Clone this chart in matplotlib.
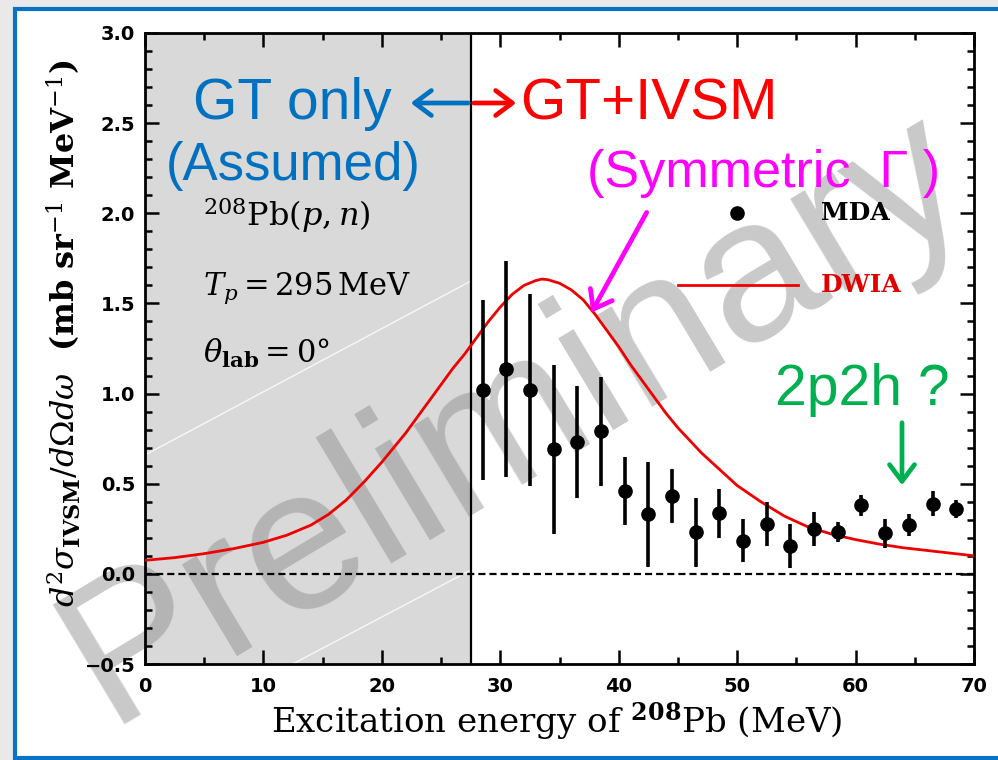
import matplotlib
matplotlib.use("Agg")
import matplotlib.pyplot as plt
from matplotlib.patches import Rectangle, FancyArrowPatch
from matplotlib.lines import Line2D
from matplotlib.ticker import MultipleLocator

plt.rcParams["mathtext.fontset"] = "dejavuserif"

# Multipole decomposition (MDA) points: excitation energy, cross section, error
mda_ex = [28.5, 30.5, 32.5, 34.5, 36.5, 38.5, 40.5, 42.5, 44.5, 46.5, 48.5,
          50.5, 52.5, 54.5, 56.5, 58.5, 60.5, 62.5, 64.5, 66.5, 68.5]
mda_xs = [1.02, 1.135, 1.02, 0.69, 0.73, 0.79, 0.46, 0.33, 0.43, 0.23, 0.335,
          0.185, 0.277, 0.155, 0.25, 0.23, 0.38, 0.226, 0.27, 0.39, 0.36]
mda_err = [0.50, 0.60, 0.53, 0.47, 0.31, 0.30, 0.19, 0.29, 0.15, 0.19, 0.135,
           0.12, 0.12, 0.12, 0.095, 0.055, 0.06, 0.08, 0.06, 0.07, 0.05]

# DWIA calculation
dwia_ex = [0, 2.5, 5, 7.5, 10, 12, 14, 15.5, 17, 18.5, 20, 21, 22, 23, 24, 25,
           26, 27, 28, 29, 30, 31, 32, 33, 33.5, 34, 35, 36, 37, 38, 39, 40,
           41, 42, 43, 44, 45, 46, 47, 48, 49, 50, 52, 54, 56, 58, 60, 62,
           64, 66, 68, 70]
dwia_xs = [0.075, 0.09, 0.112, 0.14, 0.175, 0.215, 0.27, 0.33, 0.41, 0.51,
           0.62, 0.70, 0.78, 0.87, 0.96, 1.05, 1.14, 1.22, 1.31, 1.40, 1.48,
           1.55, 1.60, 1.627, 1.635, 1.632, 1.612, 1.575, 1.52, 1.44, 1.35,
           1.26, 1.16, 1.07, 0.98, 0.89, 0.81, 0.74, 0.67, 0.61, 0.55, 0.49,
           0.40, 0.32, 0.26, 0.22, 0.19, 0.165, 0.145, 0.13, 0.115, 0.10]

gt_only_limit = 27.5
x_ticks = [0, 10, 20, 30, 40, 50, 60, 70]
y_ticks = [-0.5, 0.0, 0.5, 1.0, 1.5, 2.0, 2.5, 3.0]

W, H = 998, 760
fig = plt.figure(figsize=(W / 100, H / 100), dpi=100)
fig.patch.set_facecolor("#e9e9e9")


def fx(px):
    return px / W


def fy(py):
    return 1 - py / H


# slide panel with blue frame
fig.patches.append(Rectangle((fx(15), fy(758)), fx(1100) - fx(15), fy(9) - fy(758),
                             transform=fig.transFigure, facecolor="white",
                             edgecolor="#0a72c4", linewidth=3.0, zorder=-5))

ax = fig.add_axes([fx(145), fy(664), fx(974) - fx(145), fy(33) - fy(664)])
ax.set_xlim(0, 70)
ax.set_ylim(-0.5, 3.0)

ax.axvspan(0, gt_only_limit, color="#d9d9d9", zorder=0.2, lw=0)
ax.axvline(gt_only_limit, color="black", lw=1.6, zorder=1.8)
ax.axhline(0, color="black", lw=1.6, dashes=(3.2, 1.8), zorder=1.8)

# faint glare streaks across the shaded band
for (x0, y0), (x1, y1) in [((145, 455), (471, 281)), ((287, 667), (471, 570))]:
    ax.add_line(Line2D([fx(x0), fx(x1)], [fy(y0), fy(y1)], transform=fig.transFigure,
                       color="white", lw=1.0, alpha=0.8, zorder=0.4))

# watermark
ax.text(fx(515), fy(418), "Preliminary", transform=fig.transFigure,
        fontsize=146, family="Liberation Sans", color="#888888", alpha=0.45,
        rotation=31, ha="center", va="center", rotation_mode="anchor",
        zorder=0.5, clip_on=False)

ax.plot(dwia_ex, dwia_xs, color="#ee0000", lw=2.0, zorder=3)
ax.errorbar(mda_ex, mda_xs, yerr=mda_err, fmt="o", color="black", ms=9.5,
            elinewidth=2.6, capsize=0, zorder=4)

# legend
ax.plot([50], [2.0], "o", color="black", ms=9.5, zorder=4)
ax.text(57.1, 2.0, "MDA", family="DejaVu Serif", fontsize=18, fontweight="bold",
        va="center", ha="left", zorder=4)
ax.plot([45.0, 55.1], [1.6, 1.6], color="#ee0000", lw=2.0, zorder=3)
ax.text(57.1, 1.6, "DWIA", family="DejaVu Serif", fontsize=18, fontweight="bold",
        color="#e00000", va="center", ha="left", zorder=4)

# reaction info
ax.text(4.9, 1.93, r"$^{208}\mathrm{Pb}(p,n)$", fontsize=23, va="baseline", zorder=4)
ax.text(4.9, 1.55, r"$T_p=295\,\mathrm{MeV}$", fontsize=22, va="baseline", zorder=4)
ax.text(4.9, 1.17, r"$\theta_{\mathbf{lab}}=0\degree$", fontsize=22, va="baseline", zorder=4)

# axes styling
ax.set_xticks(x_ticks)
ax.set_yticks(y_ticks)
ax.set_xticklabels([f"{t:d}" for t in x_ticks])
ax.set_yticklabels([f"{t:.1f}".replace("-", "\u2212") for t in y_ticks])
ax.xaxis.set_minor_locator(MultipleLocator(5))
ax.yaxis.set_minor_locator(MultipleLocator(0.1))
ax.tick_params(which="both", direction="in", top=True, right=True, width=1.8)
ax.tick_params(which="major", length=10)
ax.tick_params(which="minor", length=5)
ax.tick_params(axis="x", which="major", pad=9)
ax.tick_params(axis="y", which="major", pad=7)
for lab in ax.get_xticklabels() + ax.get_yticklabels():
    lab.set_fontweight("heavy")
    lab.set_fontsize(14)
    lab.set_family("DejaVu Sans")
for sp in ax.spines.values():
    sp.set_linewidth(2.0)

ax.set_xlabel(r"Excitation energy of $^{\mathbf{208}}$Pb (MeV)", family="DejaVu Serif",
              fontsize=24.5)
ax.xaxis.set_label_coords((557 - 145) / 829, (664 - 701) / 631)
ax.set_ylabel(r"$d^2\sigma_{\mathbf{IVSM}}/d\Omega d\omega$  (mb sr$^{-1}$ MeV$^{-1}$)",
              family="DejaVu Serif", fontsize=23, fontweight="bold")
ax.yaxis.set_label_coords((83 - 145) / 829, (664 - 333) / 631)

# slide annotations
blue = "#0070c0"
red = "#ff0000"
magenta = "#ff00ff"
green = "#00b050"
sans = "Liberation Sans"

fig.text(fx(292), fy(104), "GT only", color=blue, fontsize=41, family=sans,
         ha="center", va="center")
fig.text(fx(293), fy(166), "(Assumed)", color=blue, fontsize=38, family=sans,
         ha="center", va="center")
fig.text(fx(520), fy(104), "GT+IVSM", color=red, fontsize=42, family=sans,
         ha="left", va="center")
fig.text(fx(587), fy(174), "(Symmetric  Γ )", color=magenta, fontsize=37.5, family=sans,
         ha="left", va="center")
fig.text(fx(775), fy(390), "2p2h ?", color=green, fontsize=41, family=sans,
         ha="left", va="center")


def arrow(p0, p1, color):
    a = FancyArrowPatch((fx(p0[0]), fy(p0[1])), (fx(p1[0]), fy(p1[1])),
                        transform=fig.transFigure,
                        arrowstyle="->,head_length=12,head_width=9",
                        color=color, lw=3.4, mutation_scale=1, zorder=10,
                        capstyle="round", joinstyle="round")
    fig.patches.append(a)


arrow((471, 103), (408, 103), blue)
arrow((471, 103), (519, 103), red)
arrow((648, 210), (590, 315), magenta)
arrow((902, 420), (902, 488), green)

fig.savefig("out.png", dpi=100, facecolor=fig.get_facecolor())
